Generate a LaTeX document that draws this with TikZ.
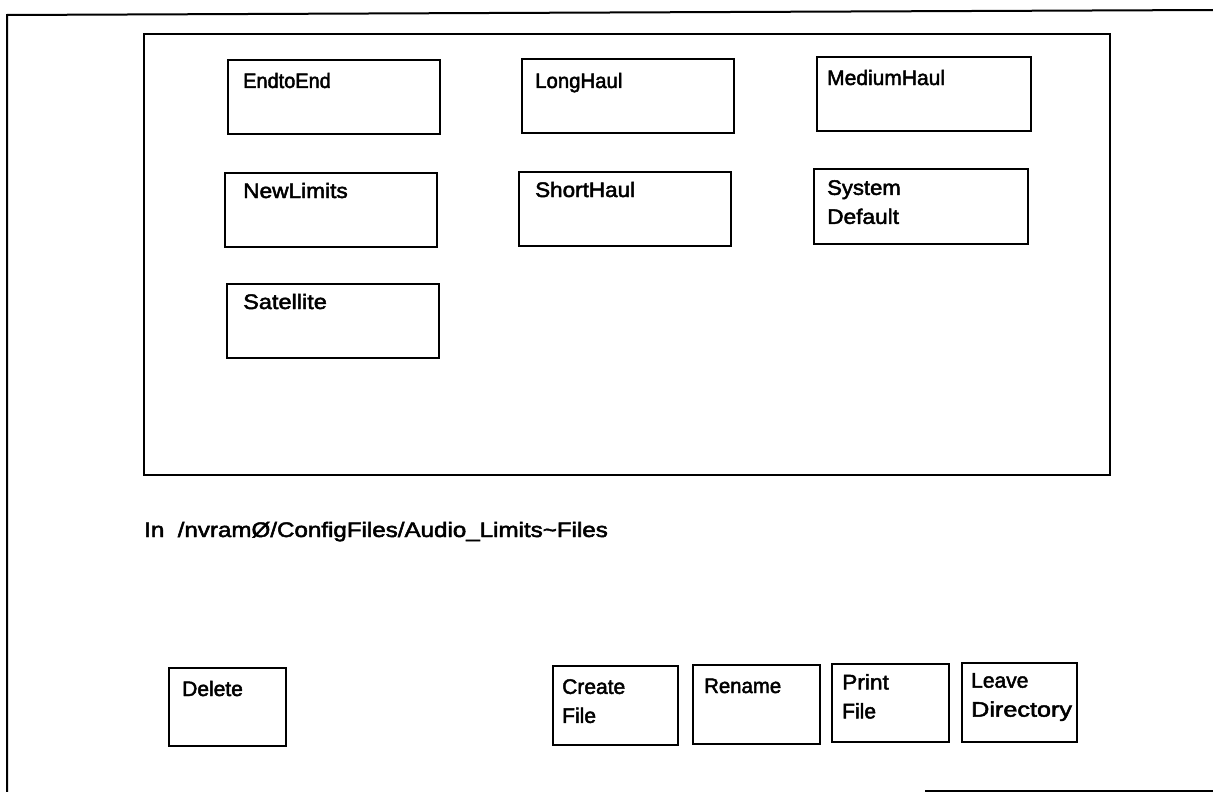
\documentclass[tikz,border=0pt]{standalone}
\usepackage{fontspec}
\setmainfont{Liberation Sans}
\newfontfamily\scanfont{Liberation Sans}[FakeBold=2.2]
\usepackage{graphicx}
\usetikzlibrary{fit}
\newcommand{\hsx}[2]{\scalebox{#1}[1]{#2}}
\begin{document}
\begin{tikzpicture}[x=1pt,y=-1pt,
  box/.style={draw, line width=2pt, inner sep=0pt},
  frameline/.style={line width=2pt},
  lbl/.style={anchor=base west, inner sep=0pt, font=\scanfont\fontsize{21}{29}\selectfont},
  lbltwo/.style={anchor=north west, inner sep=0pt, align=left, font=\scanfont\fontsize{21}{29}\selectfont}]
\useasboundingbox (0,0) rectangle (1213,792);
% outer frame (partly cut off)
\coordinate (otr) at (1213,10);
\coordinate (otl) at (7,15);
\coordinate (obl) at (7,792);
\coordinate (obs) at (925,791);
\coordinate (obe) at (1213,791);
\draw[frameline] (otr) -- (otl) -- (obl);
\draw[frameline] (obs) -- (obe);
% file area
\node[box, fit={(144,34) (1110,475)}] (files) {};
% file boxes
\node[box, fit={(228,60) (440,134)}] (endtoend) {};
\node[box, fit={(522,59) (734,133)}] (longhaul) {};
\node[box, fit={(817,57) (1031,131)}] (mediumhaul) {};
\node[box, fit={(225,173) (437,247)}] (newlimits) {};
\node[box, fit={(519,172) (731,246)}] (shorthaul) {};
\node[box, fit={(814,169) (1028,244)}] (sysdefault) {};
\node[box, fit={(227,284) (439,358)}] (satellite) {};
\node[lbl] (tendtoend) at (243,88) {\hsx{0.95}{EndtoEnd}};
\node[lbl] (tlonghaul) at (535,88) {\hsx{0.97}{LongHaul}};
\node[lbl] (tmediumhaul) at (827,85) {MediumHaul};
\node[lbl] (tnewlimits) at (243,198) {\hsx{1.08}{NewLimits}};
\node[lbl] (tshorthaul) at (535,197) {\hsx{1.07}{ShortHaul}};
\node[lbltwo] (tsysdefault) at (827,180) {\hsx{1.05}{System}\\\hsx{1.08}{Default}};
\node[lbl] (tsatellite) at (243,309) {\hsx{1.12}{Satellite}};
% path
\node[lbl] (path) at (144,537) {\hsx{1.15}{In\ \ /nvramØ/ConfigFiles/Audio\_Limits\textasciitilde Files}};
% buttons
\node[box, fit={(169,668) (286,746)}] (delete) {};
\node[box, fit={(553,666) (678,745)}] (create) {};
\node[box, fit={(693,665) (820,744)}] (rename) {};
\node[box, fit={(832,664) (949,742)}] (print) {};
\node[box, fit={(962,663) (1077,742)}] (leave) {};
\node[lbl] (tdelete) at (182,696) {Delete};
\node[lbltwo] (tcreate) at (562,679) {Create\\File};
\node[lbl] (trename) at (704,693) {\hsx{0.97}{Rename}};
\node[lbltwo] (tprint) at (842,674) {\hsx{1.08}{Print}\\File};
\node[lbltwo] (tleave) at (971,673) {Leave\\\hsx{1.2}{Directory}};
\end{tikzpicture}
\end{document}
